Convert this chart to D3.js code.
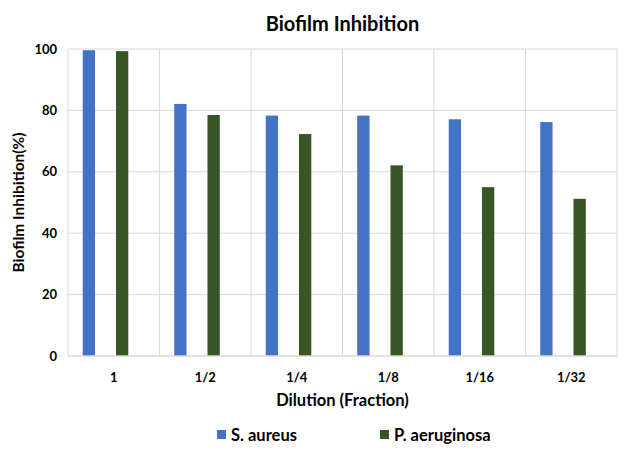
<!DOCTYPE html>
<html><head><meta charset="utf-8">
<script src="https://cdn.jsdelivr.net/npm/d3@7"></script>
<style>
body{margin:0;background:#fff;}
text{font-family:Lato,"Open Sans",sans-serif;font-weight:bold;fill:#000;}
</style></head>
<body><svg id="c" width="634" height="460"></svg>
<script>
const categories = ["1","1/2","1/4","1/8","1/16","1/32"];
const seriesNames = ["S. aureus","P. aeruginosa"];
const sAureus = [99.6, 82.1, 78.3, 78.3, 77.1, 76.2];
const pAeruginosa = [99.3, 78.5, 72.3, 62.1, 55.0, 51.2];
const yTicks = [0,20,40,60,80,100];
const colors = ["#4472C4","#375623"];

const svg = d3.select("#c");
const m = {left:68, right:17, top:49, bottom:104};
const W = 634, H = 460;
const pw = W - m.left - m.right, ph = H - m.top - m.bottom;
const g = svg.append("g").attr("transform",`translate(${m.left},${m.top})`);

const x0 = d3.scaleBand().domain(categories).range([0,pw]).padding(0);
const bw = x0.bandwidth();
const x1 = d3.scaleBand().domain(seriesNames).range([bw*0.161, bw*0.659]).paddingInner(0.63).paddingOuter(0);
const y = d3.scaleLinear().domain([0,100]).range([ph,0]);

// gridlines
g.selectAll(".hg").data(yTicks.filter(t=>t>0)).join("line")
 .attr("x1",0).attr("x2",pw).attr("y1",d=>y(d)).attr("y2",d=>y(d))
 .attr("stroke","#d9d9d9").attr("stroke-width",1);
g.selectAll(".vg").data(categories.concat(["end"])).join("line")
 .attr("x1",(d,i)=>i*bw).attr("x2",(d,i)=>i*bw).attr("y1",0).attr("y2",ph)
 .attr("stroke","#d9d9d9").attr("stroke-width",1);

const data = categories.map((c,i)=>({c, vals:[sAureus[i], pAeruginosa[i]]}));
const groups = g.selectAll(".grp").data(data).join("g").attr("transform",d=>`translate(${x0(d.c)},0)`);
groups.selectAll("rect").data(d=>d.vals.map((v,j)=>({s:seriesNames[j],v,j}))).join("rect")
 .attr("x",d=>x1(d.s)).attr("width",x1.bandwidth())
 .attr("y",d=>y(d.v)).attr("height",d=>ph-y(d.v))
 .attr("fill",d=>colors[d.j]);

// x axis line
g.append("line").attr("x1",0).attr("x2",pw).attr("y1",ph).attr("y2",ph).attr("stroke","#d9d9d9").attr("stroke-width",1.5);

// axes with d3
const xAxis = d3.axisBottom(x0).tickSize(0).tickPadding(17);
const xa = g.append("g").attr("transform",`translate(0,${ph})`).call(xAxis);
xa.select(".domain").remove();
xa.selectAll("text").attr("font-size",13).style("font-family","Lato,sans-serif").style("font-weight","bold");

const yAxis = d3.axisLeft(y).tickValues(yTicks).tickSize(0).tickPadding(11);
const ya = g.append("g").call(yAxis);
ya.select(".domain").remove();
ya.selectAll("text").attr("font-size",13).style("font-family","Lato,sans-serif").style("font-weight","bold");

// titles
svg.append("text").attr("x",m.left+pw/2).attr("y",31).attr("text-anchor","middle").attr("font-size",20).text("Biofilm Inhibition");
svg.append("text").attr("x",m.left+pw/2).attr("y",406).attr("text-anchor","middle").attr("font-size",16.5).text("Dilution (Fraction)");
svg.append("text").attr("transform",`translate(24,${m.top+ph/2}) rotate(-90)`).attr("text-anchor","middle").attr("font-size",15.5).text("Biofilm Inhibition(%)");

// legend
const legX = [217, 380];
const lg = svg.selectAll(".leg").data(seriesNames).join("g").attr("transform",(d,i)=>`translate(${legX[i]},430)`);
lg.append("rect").attr("width",9).attr("height",9).attr("fill",(d,i)=>colors[i]);
lg.append("text").attr("x",14).attr("y",10.5).attr("font-size",16.5).text(d=>d);
</script></body></html>
